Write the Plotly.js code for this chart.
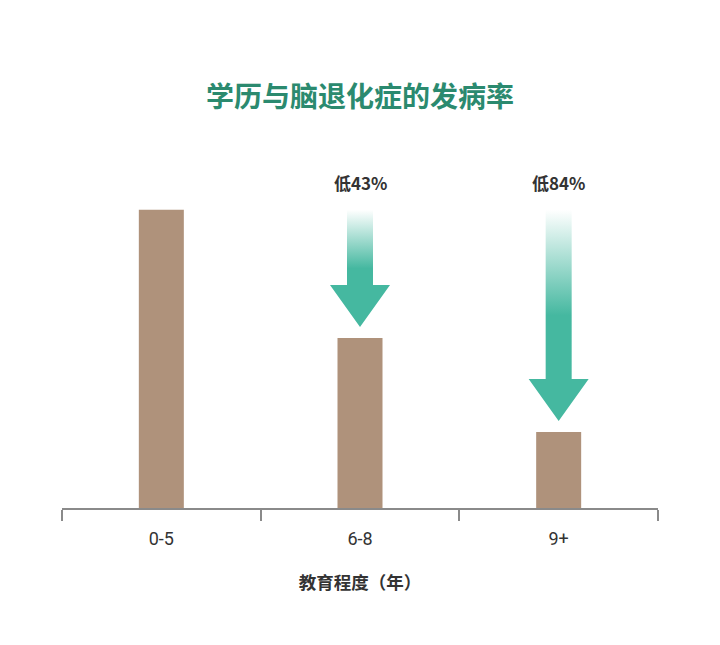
<!DOCTYPE html>
<html>
<head>
<meta charset="utf-8">
<script src="https://cdn.plot.ly/plotly-3.0.1.min.js"></script>
<style>
  body { margin: 0; background: #fff; }
  #chart { width: 720px; height: 645px; }
</style>
</head>
<body>
<div id="chart"></div>
<script>
var years = ['0-5', '6-8', '9+'];
var rate = [100, 57, 25.5];
var dropLabels = ['', '低43%', '低84%'];

var W = 720, H = 645;
var mL = 62, mR = 62, mT = 110, mB = 137;
var yMax = 133.5;
var pxX = (W - mL - mR) / 3;          // px per category
var pxY = (H - mT - mB) / yMax;       // px per unit

var font = '"Noto Sans CJK SC", "Noto Sans", sans-serif';
var teal = '#45b8a0';

var bars = {
    type: 'bar',
    x: years,
    y: rate,
    width: 45 / pxX,
    marker: {color: '#af927b'},
    hoverinfo: 'skip',
    showlegend: false
};

var data = [bars];
var annotations = [];

// arrows: from the first bar's level down to just above each other bar
// drawn on a hidden linear x axis that lines up with the category axis
for (var i = 1; i < rate.length; i++) {
    var yStart = rate[0];
    var yTip = rate[i] + 11 / pxY;
    var yHead = yTip + 42 / pxY;
    var hs = 13 / pxX, hh = 30 / pxX;
    data.push({
        type: 'scatter',
        mode: 'lines',
        xaxis: 'x2',
        x: [i - hs, i + hs, i + hs, i + hh, i, i - hh, i - hs, i - hs],
        y: [yStart, yStart, yHead, yHead, yTip, yHead, yHead, yStart],
        fill: 'toself',
        line: {width: 0, color: 'rgba(0,0,0,0)'},
        fillgradient: {
            type: 'vertical',
            colorscale: [[0, teal], [0.5, teal], [1, 'rgba(69,184,160,0)']]
        },
        hoverinfo: 'skip',
        showlegend: false
    });
    annotations.push({
        x: years[i], y: yStart, xref: 'x', yref: 'y',
        text: '<b>' + dropLabels[i] + '</b>',
        showarrow: false,
        yshift: 27,
        font: {family: font, size: 17, color: '#333'}
    });
}

var layout = {
    width: W,
    height: H,
    margin: {l: mL, r: mR, t: mT, b: mB},
    paper_bgcolor: '#fff',
    plot_bgcolor: '#fff',
    title: {
        text: '<b>学历与脑退化症的发病率</b>',
        font: {family: font, size: 28, color: '#2b8a6f'},
        x: 0.5, xanchor: 'center',
        y: 1 - 97 / H, yanchor: 'middle', yref: 'container'
    },
    xaxis: {
        type: 'category',
        range: [-0.5, 2.5],
        tickson: 'boundaries',
        ticks: 'outside',
        ticklen: 11,
        tickwidth: 2,
        tickcolor: '#8a8a8a',
        showgrid: false,
        zeroline: false,
        showline: true,
        linecolor: '#8a8a8a',
        linewidth: 2,
        ticklabelstandoff: 13,
        tickfont: {family: 'Roboto, ' + font, size: 18, color: '#333'},
        title: {
            text: '<b>教育程度（年）</b>',
            font: {family: font, size: 17.5, color: '#333'},
            standoff: 29
        },
        fixedrange: true
    },
    xaxis2: {
        overlaying: 'x',
        range: [-0.5, 2.5],
        visible: false,
        fixedrange: true
    },
    yaxis: {
        range: [0, yMax],
        visible: false,
        showgrid: false,
        zeroline: false,
        fixedrange: true
    },
    annotations: annotations
};

Plotly.newPlot('chart', data, layout, {displayModeBar: false, staticPlot: true});
</script>
</body>
</html>
